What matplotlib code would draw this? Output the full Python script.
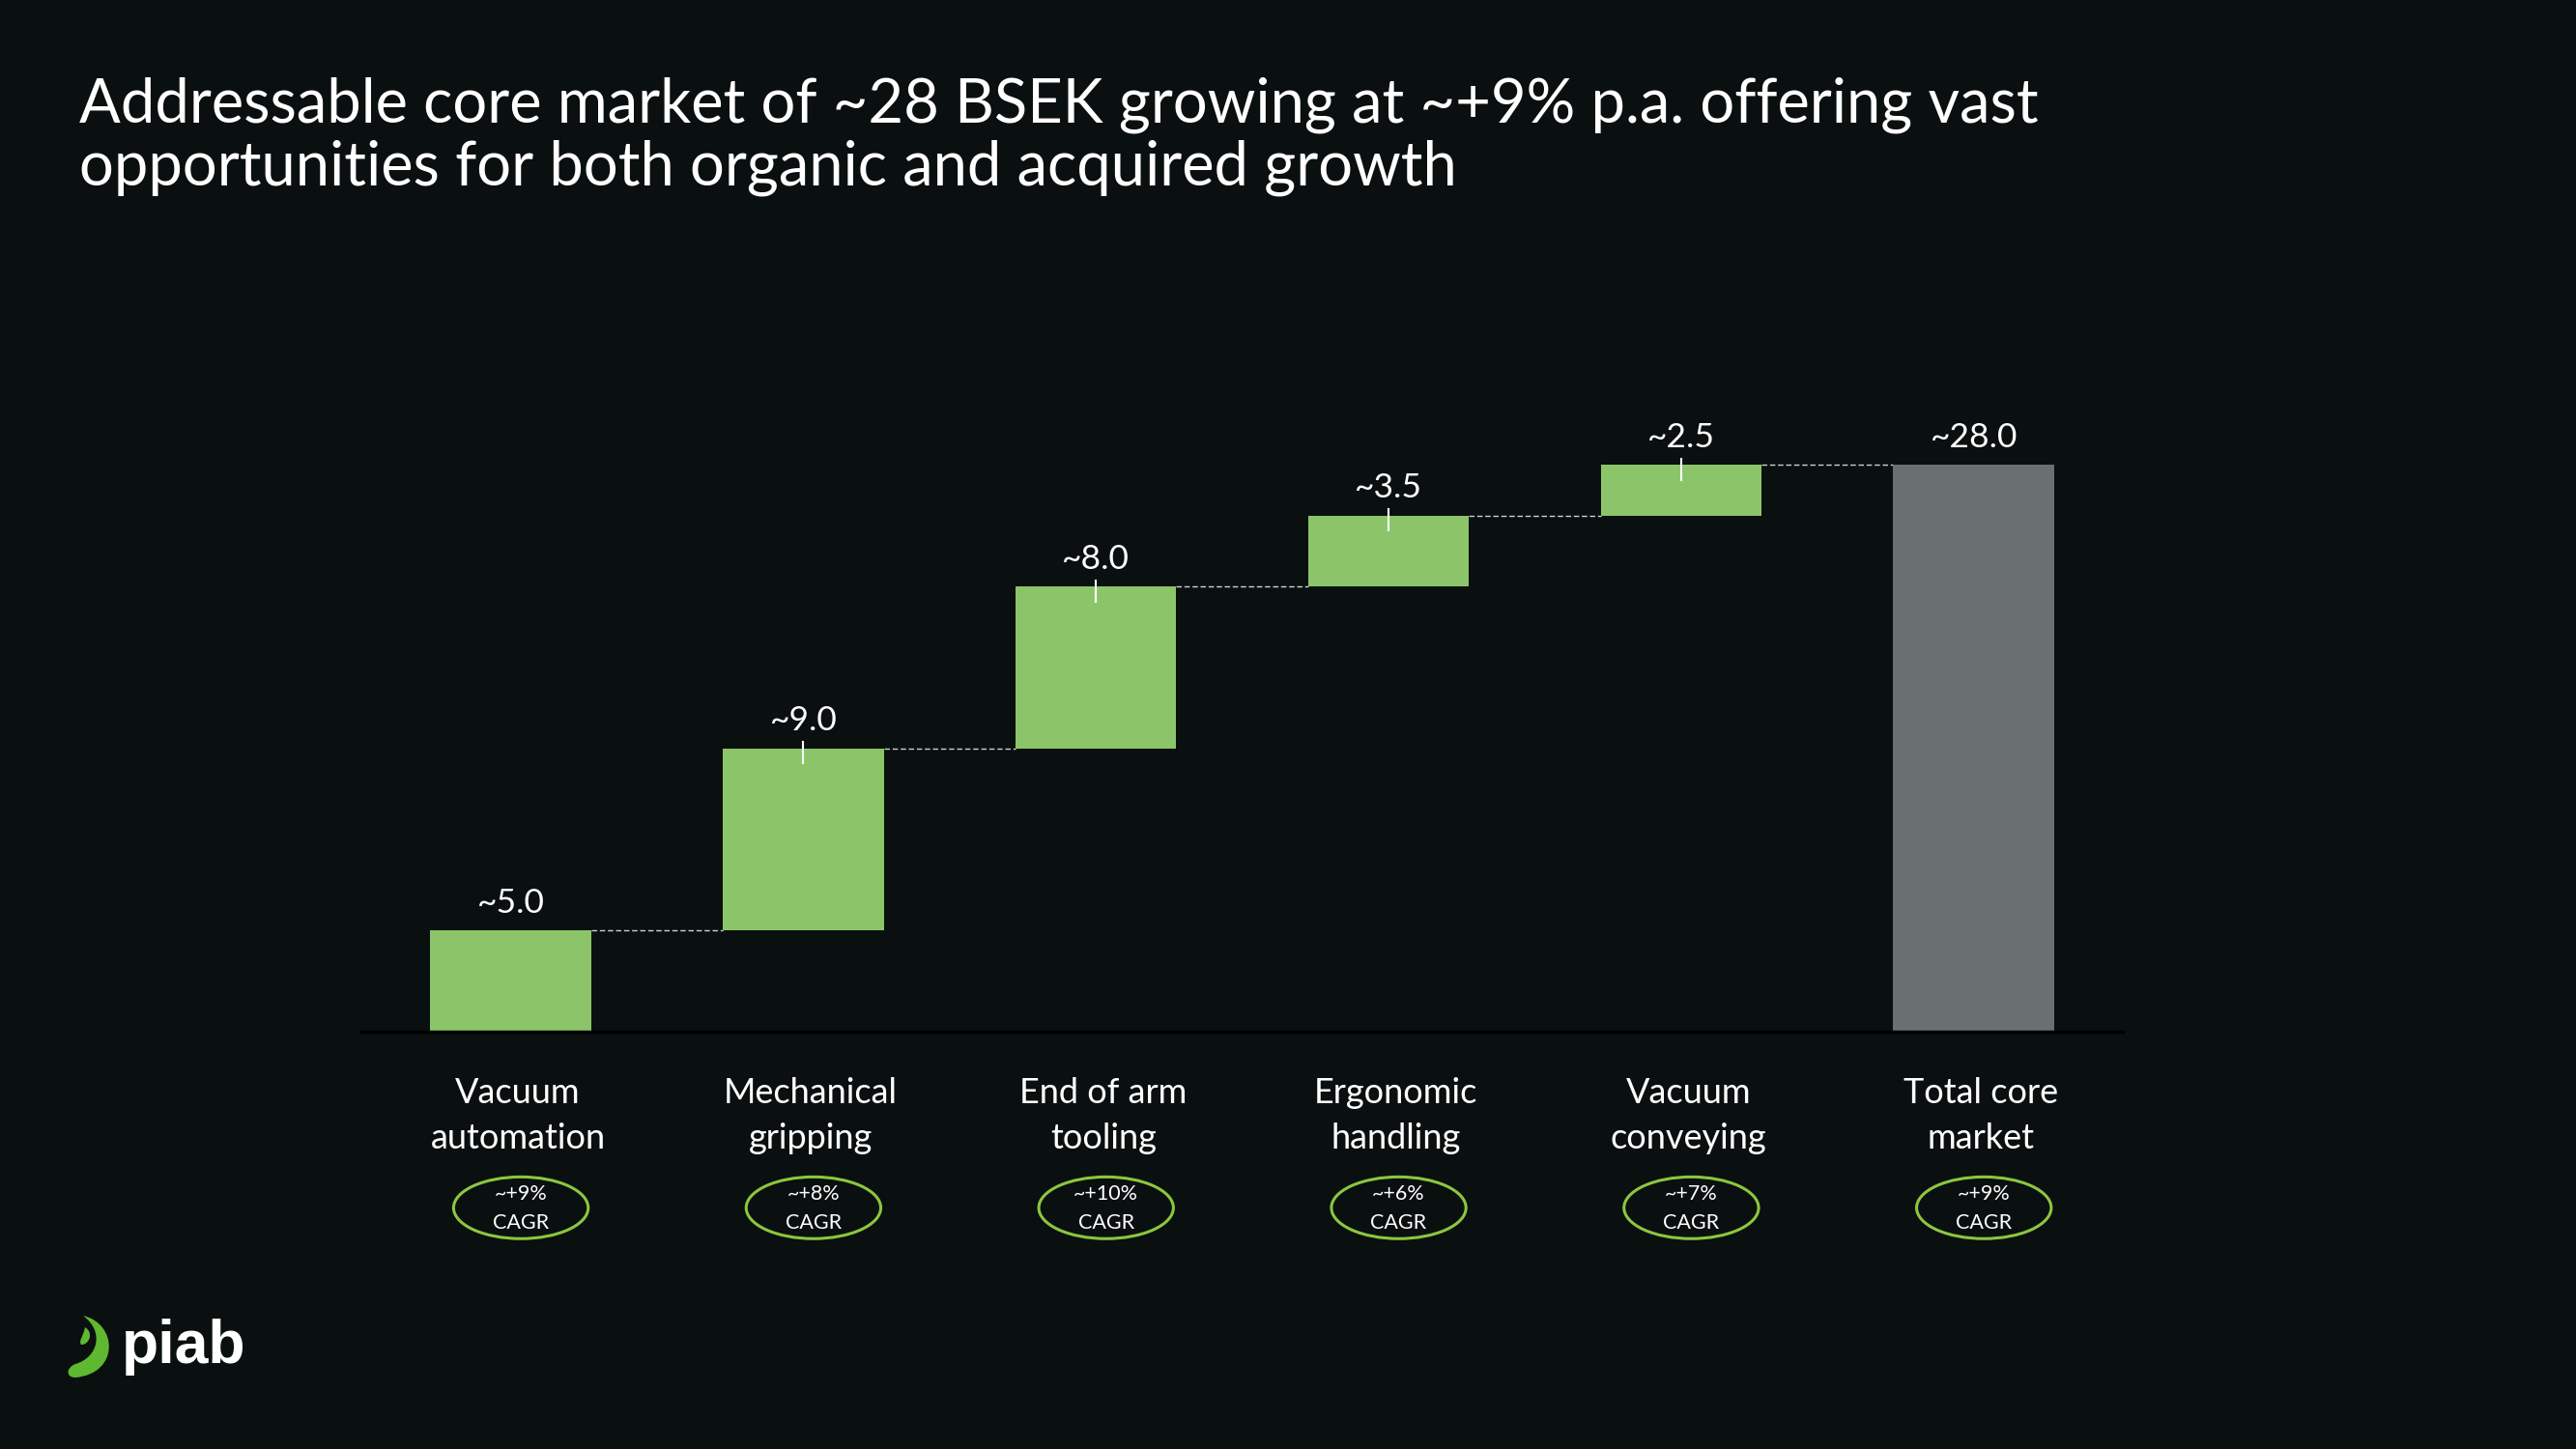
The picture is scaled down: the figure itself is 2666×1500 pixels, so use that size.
import numpy as np
import matplotlib.pyplot as plt
from matplotlib.patches import Ellipse, PathPatch
from matplotlib.path import Path

# %% Data

categories = ['Vacuum\nautomation', 'Mechanical\ngripping', 'End of arm\ntooling',
              'Ergonomic\nhandling', 'Vacuum\nconveying', 'Total core\nmarket']
values = [5.0, 9.0, 8.0, 3.5, 2.5, 28.0]   # BSEK
value_labels = ['~5.0', '~9.0', '~8.0', '~3.5', '~2.5', '~28.0']
cagr_labels = ['~+9%', '~+8%', '~+10%', '~+6%', '~+7%', '~+9%']
is_total = [False, False, False, False, False, True]

title = ("Addressable core market of ~28 BSEK growing at ~+9% p.a. offering vast\n"
         "opportunities for both organic and acquired growth")

BG = '#0a0f10'
GREEN = '#8cc569'
GREY = '#6a6f71'
ELLIPSE = '#8cc63f'

plt.rcParams['font.family'] = ['Lato', 'DejaVu Sans']

# %% Waterfall geometry

bottoms = []
cum = 0.0
for v, tot in zip(values, is_total):
    if tot:
        bottoms.append(0.0)
    else:
        bottoms.append(cum)
        cum += v
tops = [b + v for b, v in zip(bottoms, values)]
x = np.arange(len(values))
width = 0.55

fig = plt.figure(figsize=(26.66, 15), dpi=100, facecolor=BG)
ax = fig.add_axes([0.1403, 0.288, 0.6838, 0.447])
ax.set_facecolor(BG)
ax.set_xlim(-0.51, 5.51)
ax.set_ylim(0, 32)
for s in ax.spines.values():
    s.set_visible(False)
ax.set_xticks([])
ax.set_yticks([])

colors = [GREY if t else GREEN for t in is_total]
ax.bar(x, values, width=width, bottom=bottoms, color=colors, zorder=2)

# baseline
ax.axhline(0, color='black', lw=2.5, zorder=3, clip_on=False)

# connectors between bars
for i in range(len(values) - 1):
    ax.plot([x[i] + width / 2, x[i + 1] - width / 2], [tops[i], tops[i]],
            color='#d0d0d0', lw=1.0, ls=(0, (4, 2)), zorder=1)

# value labels and small ticks
for i in range(len(values)):
    ax.text(x[i], tops[i] + 1.35, value_labels[i], color='white', fontsize=25.5,
            ha='center', va='center')
    if i in (1, 2, 3, 4):
        ax.plot([x[i], x[i]], [tops[i] + 0.3, tops[i] - 0.75], color='white',
                lw=1.5, zorder=3)

# category labels + CAGR ellipses
off = 0.025
for i in range(len(values)):
    ax.text(x[i] + off, -4.15, categories[i], color='white', fontsize=26,
            ha='center', va='center', linespacing=1.5, clip_on=False)
    e = Ellipse((x[i] + off + 0.01, -8.7), width=0.46, height=3.05, fill=False,
                edgecolor=ELLIPSE, lw=2.2, clip_on=False)
    ax.add_patch(e)
    ax.text(x[i] + off + 0.01, -8.0, cagr_labels[i], color='white', fontsize=15.5,
            ha='center', va='center', clip_on=False)
    ax.text(x[i] + off + 0.01, -9.45, 'CAGR', color='white', fontsize=15.5,
            ha='center', va='center', clip_on=False)

# title
fig.text(82 / 2666, 1 - 79 / 1500, title, color='white', fontsize=45.5,
         ha='left', va='top', linespacing=1.14)

# logo: green swoosh + wordmark
W, H = 2666, 1500
def fp(px, py):
    return (px / W, 1 - py / H)

verts = [fp(86, 1362), fp(122, 1370), fp(124, 1422), fp(78, 1426),
         fp(68, 1426), fp(68, 1416), fp(78, 1412),
         fp(102, 1405), fp(108, 1378), fp(86, 1362)]
codes = [Path.MOVETO, Path.CURVE4, Path.CURVE4, Path.CURVE4,
         Path.CURVE4, Path.CURVE4, Path.CURVE4,
         Path.CURVE4, Path.CURVE4, Path.CURVE4]
fig.patches.append(PathPatch(Path(verts, codes), transform=fig.transFigure,
                             facecolor='#5fb830', edgecolor='none'))
small = [fp(88, 1374), fp(97, 1379), fp(93, 1392), fp(84, 1392),
         fp(81, 1388), fp(86, 1384), fp(88, 1374)]
scodes = [Path.MOVETO, Path.CURVE4, Path.CURVE4, Path.CURVE4,
          Path.CURVE4, Path.CURVE4, Path.CURVE4]
fig.patches.append(PathPatch(Path(small, scodes), transform=fig.transFigure,
                             facecolor='#5fb830', edgecolor='none'))
fig.text(126 / W, 1 - 1395 / H, 'piab', color='white', fontsize=45,
         fontweight='bold', family='Liberation Sans', ha='left', va='center')

fig.savefig('out.png', dpi=100, facecolor=BG)
